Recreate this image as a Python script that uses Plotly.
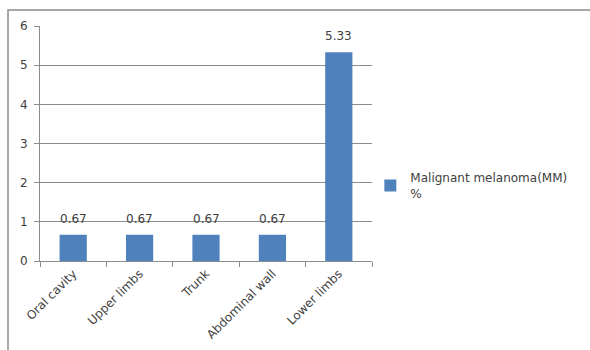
import plotly.graph_objects as go

sites = ["Oral cavity", "Upper limbs", "Trunk", "Abdominal wall", "Lower limbs"]
mm_percent = [0.67, 0.67, 0.67, 0.67, 5.33]
series_name = "Malignant melanoma(MM)<br>%"

axis_color = "#8c8c8c"
text_color = "#404040"
font_family = "DejaVu Sans, Verdana, sans-serif"

fig = go.Figure()
fig.add_trace(go.Bar(
    x=sites,
    y=mm_percent,
    name=series_name,
    marker=dict(color="#4F81BD", line=dict(width=0)),
    width=0.41,
    showlegend=True,
))

# value labels sitting a little above each bar
for site, v in zip(sites, mm_percent):
    fig.add_annotation(
        x=site, y=v, text=f"{v:.2f}", showarrow=False,
        yanchor="bottom", yshift=7,
        font=dict(size=12, color=text_color, family=font_family),
    )

fig.update_layout(
    width=590,
    height=350,
    margin=dict(l=40, r=218, t=26, b=89, autoexpand=False),
    paper_bgcolor="white",
    plot_bgcolor="white",
    font=dict(family=font_family, size=12, color=text_color),
    bargap=0.59,
    legend=dict(
        x=0.995, y=0.32, xanchor="left", yanchor="middle",
        font=dict(size=12, color=text_color, family=font_family),
        bgcolor="rgba(0,0,0,0)",
        itemwidth=30,
    ),
    xaxis=dict(
        type="category",
        automargin=False,
        showline=True, linecolor=axis_color, linewidth=1,
        ticks="outside", ticklen=5, tickcolor=axis_color, tickson="boundaries",
        tickangle=-45,
        tickfont=dict(size=12, color=text_color),
        showgrid=False,
    ),
    yaxis=dict(
        range=[0, 6], dtick=1,
        automargin=False,
        showline=True, linecolor=axis_color, linewidth=1,
        ticks="outside", ticklen=5, tickcolor=axis_color,
        showgrid=True, gridcolor=axis_color, gridwidth=1,
        zeroline=False,
        tickfont=dict(size=12, color=text_color),
        ticklabelstandoff=4,
    ),
    shapes=[dict(
        type="rect", xref="paper", yref="paper",
        x0=-32 / 332, x1=2.0, y0=-1.0, y1=1 + 16 / 235,
        line=dict(color="#8c8c8c", width=1.5), fillcolor="rgba(0,0,0,0)",
        layer="below",
    )],
)

fig.write_html("out.html")
